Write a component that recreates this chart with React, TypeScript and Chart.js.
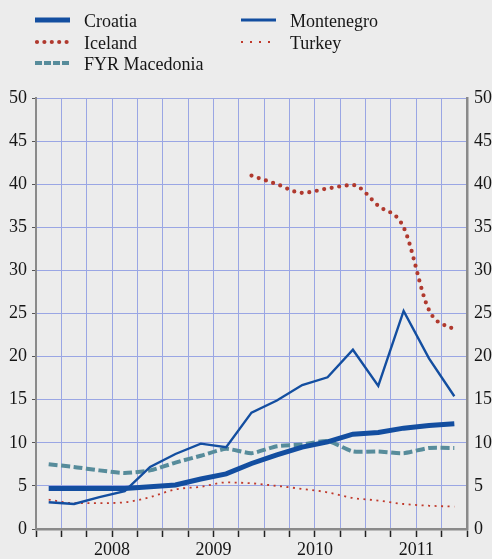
import React, { useEffect, useRef } from 'react';
import { Chart, registerables } from 'chart.js';

Chart.register(...registerables);

// Quarterly observations (Q4 2007 .. Q4 2011)
const quarters = [
  '2007 Q4',
  '2008 Q1', '2008 Q2', '2008 Q3', '2008 Q4',
  '2009 Q1', '2009 Q2', '2009 Q3', '2009 Q4',
  '2010 Q1', '2010 Q2', '2010 Q3', '2010 Q4',
  '2011 Q1', '2011 Q2', '2011 Q3', '2011 Q4',
];
const years = ['2008', '2009', '2010', '2011'];
const yTickValues = [0, 5, 10, 15, 20, 25, 30, 35, 40, 45, 50];

const croatia = [4.7, 4.7, 4.7, 4.7, 4.9, 5.1, 5.8, 6.4, 7.6, 8.6, 9.5, 10.1, 11.0, 11.2, 11.7, 12.0, 12.2];
const montenegro = [3.1, 2.9, 3.7, 4.4, 7.2, 8.7, 9.9, 9.5, 13.5, 14.9, 16.7, 17.6, 20.8, 16.6, 25.3, 19.8, 15.4];
const iceland = [null, null, null, null, null, null, null, null, 41.0, 40.0, 39.0, 39.5, 39.9, 37.5, 35.0, 25.4, 23.1];
const macedonia = [7.5, 7.2, 6.8, 6.5, 6.8, 7.7, 8.5, 9.3, 8.8, 9.6, 9.8, 10.2, 9.0, 9.0, 8.8, 9.4, 9.4];
const turkey = [3.4, 3.0, 3.0, 3.1, 3.7, 4.6, 4.9, 5.4, 5.3, 5.0, 4.65, 4.25, 3.6, 3.3, 2.9, 2.7, 2.6];

const BLUE = '#134ea0';
const RED = '#b0392e';
const TEAL = '#578c9b';
const TURKEY_RED = '#c0392b';
const GRID = '#9aa6e4';
const AXIS = '#8a8a8a';
const TEXT = '#161616';
const BG = '#ececec';
const FONT = '"Liberation Serif", "Times New Roman", serif';

const toPoints = (arr: (number | null)[]) => arr.map((v, i) => ({ x: i, y: v }));

// boundaries between quarters, used for grid lines / tick marks
const boundaries = quarters.map((_, i) => i - 0.5).concat([quarters.length - 0.5]);
// year label sits at the boundary between Q2 and Q3 of each year
const yearAt: Record<string, string> = {};
years.forEach((yr) => {
  const q2 = quarters.indexOf(yr + ' Q2');
  yearAt[String(q2 + 0.5)] = yr;
});

const legendPlugin = {
  id: 'customLegend',
  afterDraw(chart: any) {
    const ctx = chart.ctx;
    const items = [
      { ds: 0, col: 0, row: 0 },
      { ds: 3, col: 0, row: 1 },
      { ds: 2, col: 0, row: 2 },
      { ds: 1, col: 1, row: 0 },
      { ds: 4, col: 1, row: 1 },
    ];
    const colX = [35, 241];
    const rowY = [20, 42, 63];
    ctx.save();
    items.forEach((it) => {
      const d = chart.data.datasets[it.ds];
      const x0 = colX[it.col];
      const y = rowY[it.row];
      ctx.save();
      ctx.strokeStyle = d.borderColor;
      ctx.lineWidth = d.legendWidth || d.borderWidth;
      ctx.lineCap = d.borderCapStyle || 'butt';
      ctx.setLineDash(d.legendDash || d.borderDash || []);
      ctx.beginPath();
      ctx.moveTo(x0 + (d.legendInset || 0), y);
      ctx.lineTo(x0 + 35, y);
      ctx.stroke();
      ctx.restore();
      ctx.fillStyle = TEXT;
      ctx.font = '18px ' + FONT;
      ctx.textBaseline = 'alphabetic';
      ctx.textAlign = 'left';
      ctx.fillText(d.label, x0 + 49, y + 7);
    });
    ctx.restore();
  },
};

export default function App() {
  const ref = useRef<HTMLCanvasElement>(null);

  useEffect(() => {
    document.body.style.margin = '0';
    document.body.style.background = BG;
    const canvas = ref.current;
    if (!canvas) return;
    const chart = new Chart(canvas, {
      type: 'line',
      data: {
        datasets: [
          {
            label: 'Croatia',
            data: toPoints(croatia),
            borderColor: BLUE,
            borderWidth: 5,
            pointRadius: 0,
            tension: 0,
          },
          {
            label: 'Montenegro',
            data: toPoints(montenegro),
            borderColor: BLUE,
            borderWidth: 2.4,
            pointRadius: 0,
            tension: 0,
            legendWidth: 3,
          },
          {
            label: 'FYR Macedonia',
            data: toPoints(macedonia),
            borderColor: TEAL,
            borderWidth: 4,
            borderDash: [9, 3.5],
            pointRadius: 0,
            tension: 0.2,
            legendDash: [7, 2],
          },
          {
            label: 'Iceland',
            data: toPoints(iceland),
            borderColor: RED,
            borderWidth: 4.2,
            borderDash: [0, 7.6],
            borderCapStyle: 'round',
            pointRadius: 0,
            cubicInterpolationMode: 'monotone',
            spanGaps: false,
            legendDash: [0, 7.4],
            legendInset: 2,
          },
          {
            label: 'Turkey',
            data: toPoints(turkey),
            borderColor: TURKEY_RED,
            borderWidth: 1.8,
            borderDash: [2, 4.5],
            pointRadius: 0,
            cubicInterpolationMode: 'monotone',
            legendDash: [2, 7],
          },
        ] as any,
      },
      options: {
        responsive: false,
        animation: false,
        events: [],
        layout: { padding: { top: 98, bottom: 0, left: 0, right: 0 } },
        plugins: {
          legend: { display: false },
          tooltip: { enabled: false },
          title: { display: false },
        },
        scales: {
          x: {
            type: 'linear',
            min: -0.5,
            max: quarters.length - 0.5,
            afterBuildTicks: (scale: any) => {
              scale.ticks = boundaries.map((v) => ({ value: v }));
            },
            afterFit: (scale: any) => {
              scale.height = 30;
            },
            grid: {
              color: GRID,
              lineWidth: 1,
              drawTicks: true,
              tickLength: 8,
              tickColor: '#222',
              tickWidth: 1.5,
            },
            border: { color: AXIS, width: 2.5 },
            ticks: {
              autoSkip: false,
              maxRotation: 0,
              padding: 2,
              color: TEXT,
              font: { family: FONT, size: 18 },
              callback: (v: any) => yearAt[String(v)] ?? '',
            },
          },
          y: {
            position: 'left',
            min: 0,
            max: 50,
            afterBuildTicks: (scale: any) => {
              scale.ticks = yTickValues.map((v) => ({ value: v }));
            },
            afterFit: (scale: any) => {
              scale.width = 36;
            },
            grid: {
              color: GRID,
              lineWidth: 1,
              tickLength: 4,
              tickColor: '#555',
            },
            border: { color: AXIS, width: 2 },
            ticks: {
              padding: 5,
              color: TEXT,
              font: { family: FONT, size: 18 },
            },
          },
          y2: {
            position: 'right',
            min: 0,
            max: 50,
            afterBuildTicks: (scale: any) => {
              scale.ticks = yTickValues.map((v) => ({ value: v }));
            },
            afterFit: (scale: any) => {
              scale.width = 25;
            },
            grid: { display: false, drawOnChartArea: false, drawTicks: false, tickLength: 0 },
            border: { color: AXIS, width: 2.5 },
            ticks: {
              padding: 7,
              color: TEXT,
              font: { family: FONT, size: 18 },
            },
          },
        },
      } as any,
      plugins: [legendPlugin],
    });
    return () => chart.destroy();
  }, []);

  return (
    <div style={{ width: 492, height: 559, background: BG }}>
      <canvas ref={ref} width={492} height={559} style={{ display: 'block' }} />
    </div>
  );
}
